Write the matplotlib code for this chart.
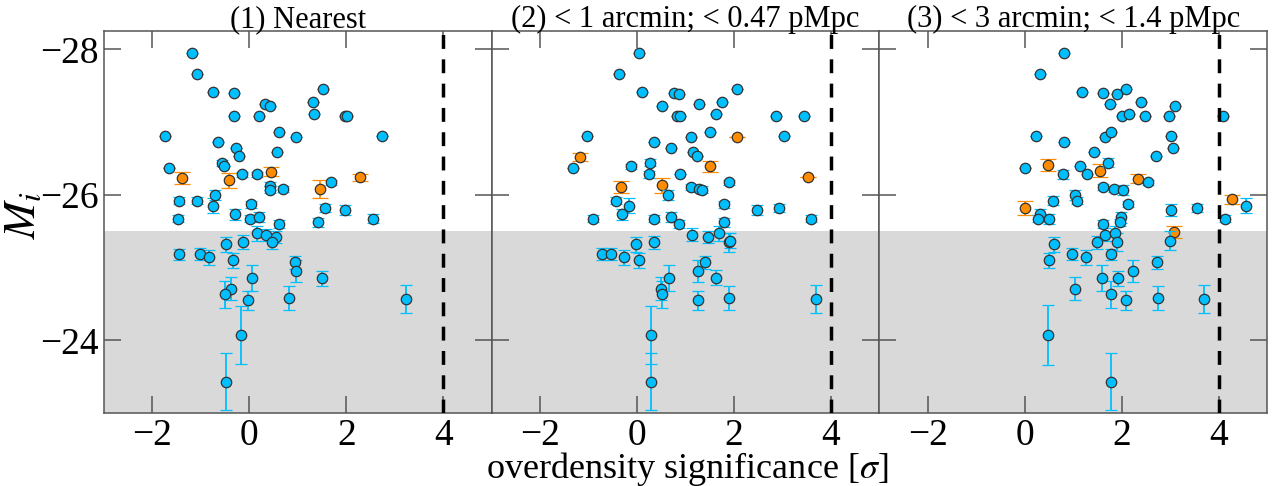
import matplotlib
matplotlib.use("Agg")
import matplotlib.pyplot as plt
import numpy as np

plt.rcParams['font.family'] = ['Liberation Serif', 'DejaVu Serif']
plt.rcParams['mathtext.fontset'] = 'stix'

titles = ["(1) Nearest", "(2) < 1 arcmin; < 0.47 pMpc", "(3) < 3 arcmin; < 1.4 pMpc"]

# ---- panel 1: nearest ----
p1_blue_x = [-1.19, -1.08, -0.74, -0.31, 0.33, 0.42, 1.53, 1.32, -0.31, 0.19, 1.34, 1.97, 2.02,
             -1.74, 0.62, 0.97, 2.74, -0.64, -0.28, -0.21, 0.57, -0.57, -0.52, -1.66, -0.16, 0.16,
             0.43, 0.43, 0.70, 1.68, -1.45, -1.07, -0.70, -0.74, -0.30, 0.03, 0.02, 0.20, 0.62,
             -1.48, 1.42, 1.56, 1.97, 2.55,
             0.16, 0.35, 0.54, 0.46, -0.49, -0.14, -1.46, -1.01, -0.83, -0.34, 0.95, 0.97, 1.50,
             0.06, -0.38, -0.51, -0.03, 0.81, 3.24, -0.17, -0.48]
p1_blue_y = [-27.95, -27.66, -27.41, -27.40, -27.25, -27.22, -27.45, -27.27, -27.08, -27.09, -27.11,
             -27.08, -27.08, -26.81, -26.87, -26.80, -26.81, -26.72, -26.65, -26.54, -26.59, -26.44,
             -26.39, -26.37, -26.28, -26.28, -26.12, -26.07, -26.08, -26.17, -25.92, -25.92, -26.00,
             -25.85, -25.73, -25.87, -25.67, -25.70, -25.60, -25.67, -25.62, -25.82, -25.79, -25.67,
             -25.47, -25.45, -25.42, -25.35, -25.32, -25.35, -25.18, -25.19, -25.14, -25.10, -25.07,
             -24.95, -24.85, -24.86, -24.71, -24.63, -24.55, -24.58, -24.57, -24.07, -23.43]
p1_blue_err = [0, 0, 0, 0, 0, 0, 0, 0, 0, 0, 0, 0, 0,
               0, 0, 0, 0, 0, 0, 0, 0, 0.04, 0, 0, 0.04, 0.04,
               0.06, 0.05, 0.04, 0.04, 0.05, 0.05, 0.07, 0.10, 0.07, 0.05, 0.05, 0.07, 0.05,
               0.05, 0.06, 0.05, 0.07, 0.06,
               0.10, 0.08, 0.08, 0.10, 0.10, 0.10, 0.08, 0.08, 0.10, 0.10, 0.09, 0.15, 0.10,
               0.18, 0.16, 0.18, 0.13, 0.16, 0.19, 0.40, 0.39]
p1_orange_x = [-1.38, -0.42, 0.45, 1.45, 2.28]
p1_orange_y = [-26.23, -26.20, -26.32, -26.08, -26.24]
p1_orange_err = [0.08, 0.10, 0.06, 0.12, 0.05]

# ---- panel 2: < 1 arcmin ----
p2_blue_x = [0.04, -0.38, 0.10, 0.76, 0.87, 2.07, 0.51, 1.28, 1.75, 0.83, 0.88, 1.63, 2.86, 3.44,
             -1.03, 1.11, 1.50, 3.03, 0.34, 0.70, 1.16, 1.23, -1.32, -0.12, 0.26, 0.24, 0.88,
             1.11, 1.28, 1.34, 1.90, 0.64, -0.43, -0.17, -0.30, -0.90, 0.34, 0.70, 0.86, 1.80,
             1.80, 2.47, 2.92, 3.58,
             1.14, 1.46, 1.69, 1.90, 1.92, -0.02, 0.34, -0.72, -0.53, -0.26, 0.05, 1.40, 1.26,
             1.63, 0.65, 0.50, 0.52, 1.26, 1.89, 3.70, 0.28, 0.28]
p2_blue_y = [-27.95, -27.66, -27.41, -27.40, -27.39, -27.45, -27.22, -27.25, -27.27, -27.08, -27.08,
             -27.11, -27.08, -27.09, -26.81, -26.80, -26.87, -26.81, -26.72, -26.64, -26.59, -26.54,
             -26.37, -26.39, -26.44, -26.28, -26.28, -26.11, -26.08, -26.07, -26.17, -26.00, -25.92,
             -25.85, -25.73, -25.67, -25.67, -25.69, -25.60, -25.87, -25.62, -25.79, -25.82, -25.67,
             -25.45, -25.42, -25.47, -25.35, -25.37, -25.32, -25.35, -25.19, -25.19, -25.14, -25.10,
             -25.07, -24.95, -24.86, -24.86, -24.71, -24.63, -24.55, -24.58, -24.57, -24.07, -23.43]
p2_blue_err = [0, 0, 0, 0, 0, 0, 0, 0, 0, 0, 0, 0, 0, 0,
               0, 0, 0, 0, 0, 0, 0, 0, 0, 0.04, 0.05, 0.05, 0,
               0.04, 0.04, 0.05, 0.04, 0.07, 0.05, 0.10, 0.07, 0.05, 0.05, 0.07, 0.05, 0.05,
               0.06, 0.07, 0.05, 0.05,
               0.09, 0.08, 0.10, 0.13, 0.10, 0.10, 0.09, 0.08, 0.08, 0.10, 0.10, 0.09, 0.15,
               0.10, 0.18, 0.16, 0.18, 0.13, 0.16, 0.19, 0.40, 0.39]
p2_orange_x = [-1.18, -0.34, 0.52, 1.51, 2.07, 3.52]
p2_orange_y = [-26.52, -26.11, -26.13, -26.39, -26.80, -26.24]
p2_orange_err = [0.06, 0.08, 0.10, 0.08, 0, 0]

# ---- panel 3: < 3 arcmin ----
p3_blue_x = [0.81, 0.32, 1.18, 1.61, 1.90, 2.10, 1.75, 2.40, 3.11, 2.01, 2.16, 2.48, 2.98, 4.09,
             0.23, 1.65, 1.77, 3.02, 0.81, 3.05, 1.42, 2.71, 0.00, 1.15, 1.72, 0.78, 1.28,
             1.62, 1.84, 2.03, 2.55, 1.03, 1.08, 0.59, 2.14, 0.31, 0.27, 0.50, 1.61, 1.98,
             1.96, 3.02, 3.56, 4.14, 4.56,
             1.66, 1.86, 1.50, 1.91, 0.60, 3.00, 0.98, 1.26, 1.79, 0.50, 2.73, 2.23, 1.92,
             1.59, 1.04, 1.78, 2.10, 2.75, 3.70, 0.47, 1.79]
p3_blue_y = [-27.95, -27.66, -27.41, -27.40, -27.39, -27.45, -27.25, -27.27, -27.22, -27.08, -27.11,
             -27.09, -27.08, -27.09, -26.81, -26.80, -26.87, -26.81, -26.72, -26.64, -26.59, -26.54,
             -26.37, -26.39, -26.44, -26.28, -26.28, -26.11, -26.08, -26.07, -26.17, -26.00, -25.92,
             -25.92, -25.87, -25.73, -25.67, -25.67, -25.60, -25.69, -25.62, -25.79, -25.82, -25.67,
             -25.85,
             -25.45, -25.47, -25.35, -25.35, -25.32, -25.37, -25.19, -25.14, -25.18, -25.10, -25.07,
             -24.95, -24.85, -24.86, -24.71, -24.63, -24.55, -24.58, -24.57, -24.07, -23.43]
p3_blue_err = [0, 0, 0, 0, 0, 0, 0, 0, 0, 0, 0, 0, 0, 0,
               0, 0, 0, 0, 0, 0, 0, 0, 0, 0, 0.06, 0.06, 0,
               0.04, 0.04, 0.07, 0.04, 0.07, 0.05, 0.06, 0.04, 0.08, 0.05, 0.07, 0.05, 0.08,
               0.05, 0.08, 0.05, 0.05, 0.10,
               0.09, 0.10, 0.09, 0.12, 0.10, 0.13, 0.08, 0.10, 0.08, 0.10, 0.09, 0.15, 0.10,
               0.18, 0.16, 0.18, 0.13, 0.16, 0.19, 0.41, 0.39]
p3_orange_x = [0.00, 0.49, 1.56, 2.33, 4.27, 3.07]
p3_orange_y = [-25.82, -26.41, -26.33, -26.22, -25.94, -25.49]
p3_orange_err = [0.10, 0.08, 0.09, 0.06, 0.06, 0.08]

panels = [
    (p1_blue_x, p1_blue_y, p1_blue_err, p1_orange_x, p1_orange_y, p1_orange_err),
    (p2_blue_x, p2_blue_y, p2_blue_err, p2_orange_x, p2_orange_y, p2_orange_err),
    (p3_blue_x, p3_blue_y, p3_blue_err, p3_orange_x, p3_orange_y, p3_orange_err),
]

blue = '#00bfff'
orange = '#ff8c00'
axcol = '#555555'

fig, axes = plt.subplots(1, 3, figsize=(12.77, 4.86), dpi=100, sharey=True)
fig.subplots_adjust(left=0.0814, right=0.9922, top=0.936, bottom=0.150, wspace=0)

for i, ax in enumerate(axes):
    bx, by, be, ox, oy, oe = panels[i]
    ax.axhspan(-25.5, -23.0, color='#d9d9d9', zorder=0, lw=0)
    ax.errorbar(ox, oy, yerr=oe, fmt='o', color=orange, mfc=orange, mec='#333333',
                mew=0.9, ms=7.5, capsize=6, elinewidth=1.3, capthick=1.3, zorder=2)
    ax.errorbar(bx, by, yerr=be, fmt='o', color=blue, mfc=blue, mec='#333333',
                mew=0.9, ms=7.5, capsize=4, elinewidth=1.3, capthick=1.3, zorder=3)
    ax.axvline(4, color='black', ls=(0, (4, 3)), lw=2.5, zorder=4)
    ax.set_xlim(-3, 5)
    ax.set_ylim(-23.0, -28.25)
    ax.set_xticks([-2, 0, 2, 4])
    ax.set_yticks([-28, -26, -24])
    ax.tick_params(direction='in', length=12, width=1.1, color=axcol, labelsize=27,
                   top=True, right=True, pad=4)
    for sp in ax.spines.values():
        sp.set_color(axcol)
        sp.set_linewidth(1.1)
    ax.set_title(titles[i], fontsize=22, pad=3)

axes[0].set_ylabel(r'$M_i$', fontsize=32)
axes[0].yaxis.set_label_coords(-0.155, 0.52)
fig.text(0.538, 0.036, r'overdensity significance [$\sigma$]', fontsize=26,
         ha='center', va='center')

fig.savefig('out.png', dpi=100)
